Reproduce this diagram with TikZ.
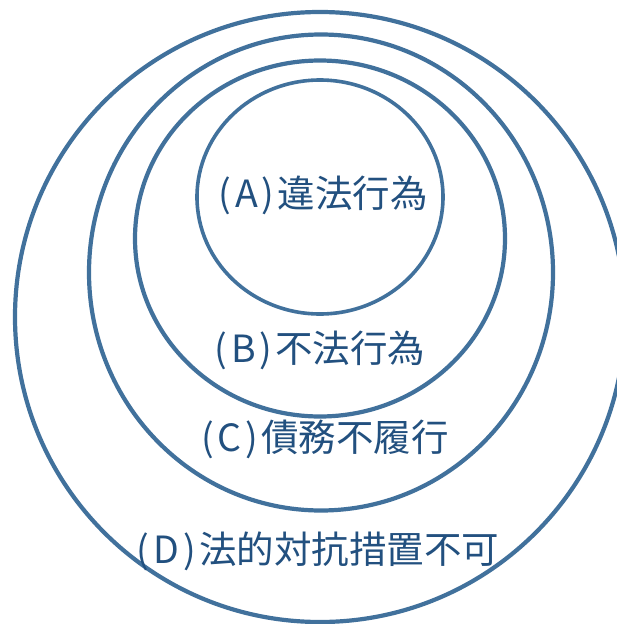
\documentclass[tikz,border=0pt]{standalone}
\usepackage{fontspec}
\newfontfamily\jpfont{Noto Sans CJK JP}
\definecolor{ringblue}{HTML}{41719C}
\definecolor{textblue}{HTML}{22507F}
\newcommand{\plab}[1]{(\kern4pt #1\kern4pt)\kern3pt}
\begin{document}
\begin{tikzpicture}[x=1pt,y=-1pt,
  ring/.style={draw=ringblue,line width=4.2pt},
  lbl/.style={text=textblue,inner sep=0pt,font=\jpfont\fontsize{37.5}{40}\selectfont}]
\useasboundingbox (0,0) rectangle (617,624);
\clip (0,0) rectangle (617,624);
\fill[white] (0,0) rectangle (617,624);
\draw[ring] (320,317) ellipse [x radius=305, y radius=305];
\draw[ring] (321,272.5) ellipse [x radius=232, y radius=238];
\draw[ring] (320,238.5) ellipse [x radius=185, y radius=178];
\draw[ring,line width=3.6pt] (320,197) ellipse [x radius=123, y radius=117];
\node[lbl] (a) at (323,195) {\plab{A}違法行為};
\node[lbl] (b) at (320,350) {\plab{B}不法行為};
\node[lbl] (c) at (325,439) {\plab{C}債務不履行};
\node[lbl] (d) at (318,551) {\plab{D}法的対抗措置不可};
\end{tikzpicture}
\end{document}
